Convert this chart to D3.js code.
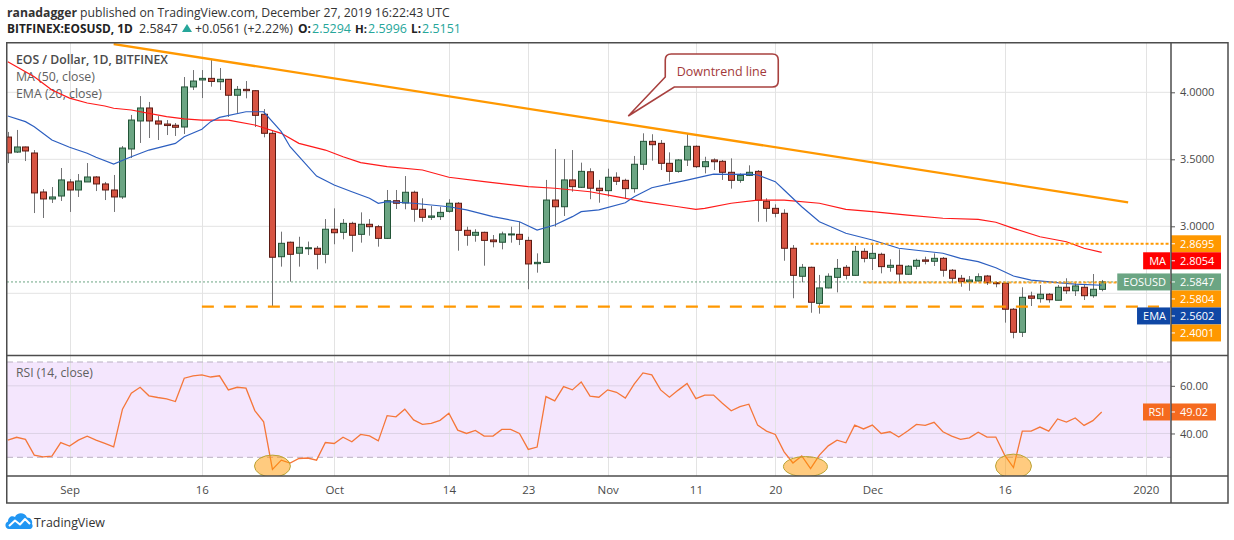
<!DOCTYPE html>
<html>
<head>
<meta charset="utf-8">
<script src="https://cdn.jsdelivr.net/npm/d3@7/dist/d3.min.js"></script>
<style>
html,body{margin:0;padding:0;background:#ffffff;}
svg{display:block;}
text{font-family:"Open Sans","Noto Sans","DejaVu Sans",sans-serif;}
</style>
</head>
<body>
<svg id="chart" width="1234" height="540" viewBox="0 0 1234 540"></svg>
<script>
// ================= DATA =================
const firstDay = "2019-08-25";
const lastDay  = "2019-12-27";

const opens = [3.666,3.554,3.592,3.547,3.256,3.204,3.226,3.331,3.271,3.331,
3.368,3.316,3.271,3.219,3.577,3.786,3.883,3.786,3.763,3.754,
3.741,4.040,4.092,4.104,4.079,4.097,3.978,4.022,4.012,3.836,
3.694,2.773,2.881,2.799,2.833,2.836,2.791,2.978,2.955,3.022,
2.940,3.015,2.997,2.910,3.191,3.174,3.254,3.127,3.067,3.072,
3.112,3.172,2.970,2.933,2.955,2.898,2.881,2.937,2.940,2.895,
2.721,2.731,3.196,3.146,3.346,3.291,3.407,3.284,3.266,3.366,
3.343,3.281,3.463,3.634,3.619,3.470,3.410,3.495,3.597,3.445,
3.495,3.485,3.403,3.343,3.380,3.410,3.187,3.134,3.097,2.836,
2.627,2.694,2.425,2.540,2.619,2.694,2.634,2.813,2.761,2.791,
2.694,2.709,2.642,2.702,2.749,2.739,2.761,2.672,2.612,2.587,
2.592,2.629,2.579,2.575,2.381,2.209,2.480,2.460,2.493,2.448,
2.545,2.519,2.545,2.482,2.5294];

const highs = [3.704,3.719,3.595,3.569,3.278,3.293,3.435,3.353,3.390,3.472,
3.375,3.331,3.383,3.599,3.831,3.972,3.928,3.823,3.793,3.771,
4.114,4.166,4.166,4.241,4.181,4.099,4.047,4.084,4.017,3.875,
3.711,2.960,2.886,2.922,2.886,2.853,3.054,3.134,3.054,3.034,
3.104,3.054,3.010,3.271,3.271,3.375,3.266,3.209,3.152,3.146,
3.202,3.181,2.997,2.978,2.960,2.935,2.960,2.997,3.034,2.922,
2.798,3.346,3.577,3.502,3.569,3.475,3.433,3.346,3.430,3.403,
3.355,3.525,3.694,3.687,3.644,3.552,3.502,3.694,3.604,3.519,
3.507,3.495,3.507,3.395,3.455,3.420,3.209,3.164,3.127,2.860,
2.719,2.699,2.637,2.649,2.756,2.711,2.853,2.836,2.866,2.803,
2.754,2.828,2.711,2.758,2.773,2.798,2.771,2.681,2.637,2.629,
2.649,2.637,2.587,2.579,2.390,2.545,2.512,2.562,2.502,2.562,
2.612,2.579,2.562,2.644,2.5996];

const lows = [3.472,3.547,3.487,3.099,3.062,3.174,3.189,3.107,3.219,3.331,
3.263,3.196,3.107,3.204,3.510,3.622,3.659,3.644,3.681,3.674,
3.689,4.017,3.957,4.042,4.017,3.816,3.846,3.955,3.741,3.664,
2.400,2.699,2.587,2.699,2.786,2.679,2.724,2.866,2.903,2.810,
2.878,2.930,2.848,2.905,3.129,3.127,3.034,3.034,3.047,3.047,
3.102,2.818,2.855,2.885,2.706,2.843,2.828,2.878,2.860,2.530,
2.654,2.728,2.997,3.077,3.258,3.286,3.202,3.176,3.221,3.308,
3.206,3.251,3.420,3.490,3.420,3.333,3.400,3.450,3.435,3.395,
3.420,3.346,3.281,3.325,3.375,3.034,3.034,3.067,2.743,2.463,
2.582,2.355,2.348,2.537,2.507,2.604,2.631,2.731,2.674,2.649,
2.661,2.582,2.637,2.679,2.716,2.704,2.624,2.575,2.549,2.519,
2.587,2.562,2.545,2.281,2.164,2.174,2.405,2.430,2.430,2.448,
2.495,2.480,2.450,2.467,2.5151];

const closes = [3.547,3.592,3.562,3.249,3.204,3.219,3.346,3.271,3.338,3.368,
3.316,3.271,3.219,3.584,3.793,3.883,3.786,3.763,3.752,3.739,
4.040,4.084,4.104,4.081,4.097,3.978,4.022,4.012,3.828,3.694,
2.769,2.873,2.791,2.843,2.840,2.791,2.978,2.952,3.022,2.933,
3.015,2.997,2.910,3.191,3.172,3.254,3.127,3.067,3.077,3.104,
3.172,2.970,2.933,2.955,2.895,2.885,2.943,2.943,2.903,2.719,
2.731,3.196,3.146,3.346,3.296,3.410,3.284,3.266,3.366,3.336,
3.281,3.463,3.634,3.609,3.470,3.410,3.495,3.597,3.445,3.482,
3.482,3.403,3.343,3.380,3.403,3.194,3.134,3.097,2.836,2.634,
2.694,2.433,2.540,2.627,2.686,2.634,2.813,2.761,2.798,2.699,
2.709,2.644,2.702,2.746,2.739,2.761,2.672,2.612,2.587,2.599,
2.624,2.579,2.572,2.381,2.209,2.470,2.463,2.493,2.452,2.545,
2.519,2.555,2.482,2.530,2.5847];

const rsiValues = [37.2,38.4,37.5,30.9,30.2,30.5,36.2,34.7,37.2,38.9,
37.2,35.8,34.4,50.2,56.9,59.4,55.8,55.1,54.5,53.4,
63.2,64.2,64.6,63.7,64.2,58.3,59.4,59.0,49.6,44.9,
24.9,28.8,27.6,29.5,29.7,28.8,36.2,35.8,38.4,36.5,
39.6,39.0,36.9,47.5,47.0,50.2,45.7,43.8,44.2,45.5,
48.5,41.4,40.0,41.3,38.9,38.9,41.7,41.7,40.0,33.3,
34.3,55.5,53.7,59.7,58.3,61.6,55.7,55.2,58.3,57.3,
54.9,60.7,65.4,64.6,58.3,55.2,58.2,61.0,54.6,56.1,
56.1,52.7,49.5,51.3,52.3,43.5,41.0,39.6,32.3,27.6,
30.6,25.3,30.9,34.8,37.2,36.1,43.5,41.9,43.5,40.0,
40.7,38.5,41.0,43.8,43.4,44.7,40.7,38.9,37.5,38.2,
40.5,38.5,38.5,30.9,25.7,41.0,41.0,42.7,41.0,46.1,
44.8,46.5,43.4,45.4,49.02];

// MA(50)
const maDates = ["2019-08-25","2019-08-28","2019-08-30","2019-09-01","2019-09-03","2019-09-05","2019-09-06","2019-09-08",
"2019-09-10","2019-09-12","2019-09-14","2019-09-16","2019-09-19","2019-09-22","2019-09-25","2019-09-27","2019-09-30",
"2019-10-02","2019-10-04","2019-10-07","2019-10-11","2019-10-14","2019-10-18","2019-10-23","2019-10-26","2019-10-30",
"2019-11-02","2019-11-05","2019-11-09","2019-11-11","2019-11-12","2019-11-15","2019-11-18","2019-11-21","2019-11-25",
"2019-11-28","2019-12-01","2019-12-05","2019-12-09","2019-12-13","2019-12-15","2019-12-17","2019-12-20","2019-12-23",
"2019-12-25","2019-12-27"];
const maValues = [4.228,4.116,4.017,3.957,3.920,3.898,3.881,3.868,
3.843,3.818,3.801,3.793,3.793,3.756,3.694,3.619,3.569,
3.519,3.475,3.445,3.420,3.366,3.333,3.296,3.284,3.258,
3.221,3.184,3.146,3.127,3.134,3.172,3.196,3.196,3.172,
3.127,3.109,3.084,3.060,3.052,3.030,2.985,2.922,2.885,
2.836,2.8054];

// EMA(20)
const emaDates = ["2019-08-25","2019-08-27","2019-08-28","2019-08-30","2019-09-01","2019-09-03","2019-09-04","2019-09-06",
"2019-09-08","2019-09-10","2019-09-13","2019-09-14","2019-09-16","2019-09-17","2019-09-18","2019-09-21","2019-09-23",
"2019-09-25","2019-09-26","2019-09-29","2019-10-01","2019-10-03","2019-10-05","2019-10-06","2019-10-07","2019-10-10",
"2019-10-14","2019-10-16","2019-10-19","2019-10-22","2019-10-24","2019-10-26","2019-10-28","2019-10-29","2019-10-31",
"2019-11-03","2019-11-04","2019-11-06","2019-11-08","2019-11-10","2019-11-12","2019-11-13","2019-11-15","2019-11-17",
"2019-11-18","2019-11-20","2019-11-21","2019-11-23","2019-11-25","2019-11-28","2019-12-01","2019-12-04","2019-12-09",
"2019-12-11","2019-12-13","2019-12-15","2019-12-17","2019-12-19","2019-12-22","2019-12-24","2019-12-27"];
const emaValues = [3.823,3.781,3.743,3.644,3.590,3.545,3.515,3.465,
3.519,3.569,3.619,3.669,3.724,3.781,3.813,3.855,3.855,
3.706,3.594,3.375,3.308,3.258,3.209,3.172,3.184,3.172,
3.146,3.122,3.072,3.034,2.972,3.010,3.072,3.109,3.122,
3.176,3.221,3.288,3.316,3.345,3.375,3.390,3.388,3.390,
3.383,3.333,3.271,3.146,3.034,2.948,2.898,2.836,2.799,
2.761,2.736,2.691,2.629,2.599,2.579,2.569,2.5602];

const priceTicks = [2.5, 3.0, 3.5, 4.0];
const rsiTicks = [40, 60];
const rsiBand = [30, 70];
const timeTickDates = ["2019-09-01","2019-09-16","2019-10-01","2019-10-14","2019-10-23","2019-11-01",
"2019-11-11","2019-11-20","2019-12-01","2019-12-16","2020-01-01"];
const timeTickLabels = ["Sep","16","Oct","14","23","Nov","11","20","Dec","16","2020"];

// drawings
const trendDates = ["2019-09-06","2019-12-30"];
const trendValues = [4.360, 3.179];
const resistanceLevel = 2.8695, resistanceStart = "2019-11-24";
const pivotLevel = 2.5804, pivotStart = "2019-11-30";
const supportLevel = 2.4001, supportDates = ["2019-09-16","2020-01-02T12:00"];
const calloutText = "Downtrend line";
const calloutAnchor = ["2019-11-03T08:00", 3.823];
const highlightDates = ["2019-09-24","2019-11-23T10:00","2019-12-17"];
const highlightRsi = [26.3, 26.1, 26.3];

const labelNames  = ["", "MA", "EOSUSD", "", "EMA", ""];
const labelValues = [2.8695, 2.8054, 2.5847, 2.5804, 2.5602, 2.4001];
const rsiLast = 49.02;

const header1Bold = "ranadagger";
const header1Rest = " published on TradingView.com, December 27, 2019 16:22:43 UTC";
const symbolTitle = "BITFINEX:EOSUSD, 1D";
const lastPrice = "2.5847", change = "+0.0561 (+2.22%)";
const ohlcKeys = ["O:", "H:", "L:"];
const ohlcVals = ["2.5294", "2.5996", "2.5151"];
const legendLines = ["EOS / Dollar, 1D, BITFINEX", "MA (50, close)", "EMA (20, close)"];
const rsiLegend = "RSI (14, close)";

// ================= DRAW =================
const D = s => new Date(s.length > 10 ? s + "Z" : s + "T00:00:00Z");
const svg = d3.select("#chart");
const L = 7, R = 1171, FR = 1228, PT = 43, PB = 355.5, RB = 476, AB = 503;

const x = d3.scaleUtc().domain([D("2019-08-25"), D("2020-01-01")]).range([7.8, 1145.8]);
const y = d3.scaleLinear().domain([2.5, 4.0]).range([293.3, 92.3]);
const yR = d3.scaleLinear().domain([30, 70]).range([457.3, 362]);

const days = d3.utcDay.range(D(firstDay), d3.utcDay.offset(D(lastDay), 1));
const candles = days.map((d, i) => ({d, o: opens[i], h: highs[i], l: lows[i], c: closes[i]}));

const defs = svg.append("defs");
defs.append("clipPath").attr("id", "clipP").append("rect").attr("x", L).attr("y", PT).attr("width", R - L).attr("height", PB - PT);
defs.append("clipPath").attr("id", "clipR").append("rect").attr("x", L).attr("y", PB).attr("width", R - L).attr("height", RB - PB);

function fit(sel, w) {
  const n = sel.node(); const len = n.getComputedTextLength();
  const fs = parseFloat(sel.attr("font-size"));
  if (len > 0) sel.attr("font-size", (fs * w / len).toFixed(2));
  return sel;
}

// RSI band background
svg.append("rect").attr("x", L).attr("width", R - L)
  .attr("y", yR(rsiBand[1])).attr("height", yR(rsiBand[0]) - yR(rsiBand[1]))
  .attr("fill", "#f4e6fd");

// vertical grid
const grid = svg.append("g");
grid.selectAll("line.v").data(timeTickDates).join("line")
  .attr("x1", d => Math.round(x(D(d))) + 0.5).attr("x2", d => Math.round(x(D(d))) + 0.5)
  .attr("y1", PT).attr("y2", RB).attr("stroke", "#e3e3e3").attr("stroke-width", 1);
grid.append("g").selectAll("line").data(priceTicks).join("line")
  .attr("x1", L).attr("x2", R).attr("y1", d => y(d)).attr("y2", d => y(d))
  .attr("stroke", "#e3e3e3").attr("stroke-width", 1);
grid.append("g").selectAll("line").data(rsiTicks).join("line")
  .attr("x1", L).attr("x2", R).attr("y1", d => yR(d)).attr("y2", d => yR(d))
  .attr("stroke", "#ddd2e6").attr("stroke-width", 1);
grid.append("g").selectAll("line").data(rsiBand).join("line")
  .attr("x1", L).attr("x2", R).attr("y1", d => yR(d)).attr("y2", d => yR(d))
  .attr("stroke", "#b9b0c2").attr("stroke-width", 1).attr("stroke-dasharray", "6,4");

// legend texts
svg.append("text").attr("x", 16).attr("y", 64).attr("font-size", 14).attr("font-weight", 600)
  .attr("fill", "#4a4a4a").text(legendLines[0]).call(fit, 152);
svg.append("text").attr("x", 16).attr("y", 81).attr("font-size", 14)
  .attr("fill", "#606060").text(legendLines[1]).call(fit, 79);
svg.append("text").attr("x", 16).attr("y", 98).attr("font-size", 14)
  .attr("fill", "#606060").text(legendLines[2]).call(fit, 86);
svg.append("text").attr("x", 16).attr("y", 377).attr("font-size", 14)
  .attr("fill", "#606060").text(rsiLegend).call(fit, 77);

// price pane content
const pane = svg.append("g").attr("clip-path", "url(#clipP)");

pane.append("line").attr("x1", L).attr("x2", R)
  .attr("y1", y(+lastPrice)).attr("y2", y(+lastPrice))
  .attr("stroke", "#6ba583").attr("stroke-width", 1).attr("stroke-dasharray", "2,2");

// candles
const cg = pane.append("g");
cg.selectAll("line").data(candles).join("line")
  .attr("x1", d => Math.round(x(d.d)) + 0.5).attr("x2", d => Math.round(x(d.d)) + 0.5)
  .attr("y1", d => y(d.h)).attr("y2", d => y(d.l))
  .attr("stroke", "#737375").attr("stroke-width", 1);
cg.selectAll("rect").data(candles).join("rect")
  .attr("x", d => Math.round(x(d.d)) - 2.5).attr("width", 6)
  .attr("y", d => y(Math.max(d.o, d.c)))
  .attr("height", d => Math.max(1, Math.abs(y(d.o) - y(d.c))))
  .attr("fill", d => d.c >= d.o ? "#6ba583" : "#d75442")
  .attr("stroke", d => d.c >= d.o ? "#225437" : "#5b1a13").attr("stroke-width", 1);

// MA & EMA
const line = d3.line().x(d => x(d[0])).y(d => y(d[1]));
pane.append("path").datum(maDates.map((d, i) => [D(d), maValues[i]]))
  .attr("d", line).attr("fill", "none").attr("stroke", "#ff1a1a").attr("stroke-width", 1.2);
pane.append("path").datum(emaDates.map((d, i) => [D(d), emaValues[i]]))
  .attr("d", line).attr("fill", "none").attr("stroke", "#2d5fc0").attr("stroke-width", 1.2);

// horizontal levels
pane.append("line").attr("x1", x(D(resistanceStart))).attr("x2", R)
  .attr("y1", y(resistanceLevel)).attr("y2", y(resistanceLevel))
  .attr("stroke", "#ff9800").attr("stroke-width", 2).attr("stroke-dasharray", "3,2");
pane.append("line").attr("x1", x(D(pivotStart))).attr("x2", R)
  .attr("y1", y(pivotLevel)).attr("y2", y(pivotLevel))
  .attr("stroke", "#ff9800").attr("stroke-width", 2).attr("stroke-dasharray", "3,2").attr("opacity", 0.85);
pane.append("line").attr("x1", x(D(supportDates[0]))).attr("x2", x(D(supportDates[1])))
  .attr("y1", y(supportLevel)).attr("y2", y(supportLevel))
  .attr("stroke", "#ff9800").attr("stroke-width", 2.2).attr("stroke-dasharray", "12,10");
pane.append("line").attr("x1", x(D(trendDates[0]))).attr("x2", x(D(trendDates[1])))
  .attr("y1", y(trendValues[0])).attr("y2", y(trendValues[1]))
  .attr("stroke", "#ff9800").attr("stroke-width", 2.3);

// callout
{
  const tx = x(D(calloutAnchor[0])), ty = y(calloutAnchor[1]);
  const l = tx + 37, r = tx + 150, t = ty - 62, b = ty - 29, rr = 6;
  const p = `M${l+rr},${t} H${r-rr} Q${r},${t} ${r},${t+rr} V${b-rr} Q${r},${b} ${r-rr},${b} H${l+9} L${tx},${ty} L${l},${b-10} V${t+rr} Q${l},${t} ${l+rr},${t} Z`;
  svg.append("path").attr("d", p).attr("fill", "#ffffff").attr("stroke", "#a8413f").attr("stroke-width", 1.6);
  svg.append("text").attr("x", (l + r) / 2).attr("y", (t + b) / 2 + 5).attr("text-anchor", "middle")
    .attr("font-size", 14).attr("fill", "#a33a3a").text(calloutText).call(fit, 90);
}

// RSI pane
const rp = svg.append("g").attr("clip-path", "url(#clipR)");
rp.append("path").datum(days.map((d, i) => [d, rsiValues[i]]))
  .attr("d", d3.line().x(d => x(d[0])).y(d => yR(d[1])))
  .attr("fill", "none").attr("stroke", "#f5773a").attr("stroke-width", 1.3);
const hrx = [18, 22, 18], hry = [11, 10, 12];
rp.selectAll("ellipse").data(highlightDates).join("ellipse")
  .attr("cx", d => x(D(d))).attr("cy", (d, i) => yR(highlightRsi[i]))
  .attr("rx", (d, i) => hrx[i]).attr("ry", (d, i) => hry[i])
  .attr("fill", "#ff9800").attr("fill-opacity", 0.5).attr("stroke", "#b8a336").attr("stroke-width", 1);

// price labels placement (collision avoidance, stacked downward)
const BH = 17;
let prevBottom = -1e9;
const placed = labelValues.map((v, i) => {
  let top = y(v) - BH / 2;
  if (top < prevBottom) top = prevBottom;
  prevBottom = top + BH;
  return {v, i, top};
});
const covered = yy => placed.some(p => yy > p.top - 6 && yy < p.top + BH + 6);

// price axis (tick labels hidden where price labels cover them)
const pa = svg.append("g").attr("transform", `translate(${R},0)`)
  .call(d3.axisRight(y).tickValues(priceTicks.filter(v => !covered(y(v)))).tickSize(4).tickPadding(5).tickFormat(d3.format(".4f")));
pa.select(".domain").remove();
pa.selectAll("line").attr("stroke", "#555");
pa.selectAll("text").attr("font-size", 11).attr("fill", "#4a4a4a").attr("font-family", null);

// rsi axis
const ra = svg.append("g").attr("transform", `translate(${R},0)`)
  .call(d3.axisRight(yR).tickValues(rsiTicks).tickSize(4).tickPadding(5).tickFormat(d3.format(".2f")));
ra.select(".domain").remove();
ra.selectAll("line").attr("stroke", "#555");
ra.selectAll("text").attr("font-size", 11).attr("fill", "#4a4a4a").attr("font-family", null);

// time axis
const ta = svg.append("g").attr("transform", `translate(0,${RB})`)
  .call(d3.axisBottom(x).tickValues(timeTickDates.map(D)).tickSize(0).tickPadding(10)
    .tickFormat((d, i) => timeTickLabels[i]));
ta.select(".domain").remove();
ta.selectAll("text").attr("font-size", 11.5).attr("fill", "#4a4a4a").attr("font-family", null);

// label boxes
const labelColors = ["#ff9800", "#ff0000", "#6ba583", "#ff9800", "#0f47a5", "#ff9800"];
const lg = svg.append("g");
placed.forEach(p => {
  const col = labelColors[p.i];
  lg.append("rect").attr("x", R).attr("y", p.top).attr("width", 50).attr("height", BH).attr("fill", col);
  lg.append("line").attr("x1", R).attr("x2", R + 4).attr("y1", p.top + BH / 2).attr("y2", p.top + BH / 2)
    .attr("stroke", "#fff").attr("stroke-width", 1);
  lg.append("text").attr("x", R + 9).attr("y", p.top + BH / 2 + 4).attr("font-size", 11)
    .attr("fill", "#fff").text(d3.format(".4f")(p.v));
  const nm = labelNames[p.i];
  if (nm) {
    const t = lg.append("text").attr("y", p.top + BH / 2 + 4).attr("font-size", 11)
      .attr("fill", "#fff").attr("text-anchor", "end").attr("x", R - 5).text(nm);
    const w = t.node().getComputedTextLength() + 10;
    lg.insert("rect", () => t.node()).attr("x", R - 1 - w).attr("y", p.top).attr("width", w).attr("height", BH).attr("fill", col);
  }
});
{
  const top = yR(rsiLast) - BH / 2, col = "#f56a1f";
  lg.append("rect").attr("x", R).attr("y", top).attr("width", 45).attr("height", BH).attr("fill", col);
  lg.append("line").attr("x1", R).attr("x2", R + 4).attr("y1", top + BH / 2).attr("y2", top + BH / 2).attr("stroke", "#fff");
  lg.append("text").attr("x", R + 9).attr("y", top + BH / 2 + 4).attr("font-size", 11).attr("fill", "#fff").text(rsiLast.toFixed(2));
  lg.append("rect").attr("x", R - 28).attr("y", top).attr("width", 27).attr("height", BH).attr("fill", col);
  lg.append("text").attr("x", R - 14.5).attr("y", top + BH / 2 + 4).attr("text-anchor", "middle").attr("font-size", 11).attr("fill", "#fff").text("RSI");
}

// frame
const fr = svg.append("g").attr("stroke", "#4d4d4d").attr("stroke-width", 1.5).attr("fill", "none");
fr.append("rect").attr("x", 6.75).attr("y", 42.75).attr("width", FR - 6.75).attr("height", AB - 42.75);
fr.append("line").attr("x1", 6.75).attr("x2", FR).attr("y1", PB).attr("y2", PB);
fr.append("line").attr("x1", 6.75).attr("x2", FR).attr("y1", RB).attr("y2", RB);
fr.append("line").attr("x1", R).attr("x2", R).attr("y1", 42.75).attr("y2", AB);

// header
const h1 = svg.append("text").attr("x", 7).attr("y", 17).attr("font-size", 15).attr("fill", "#333");
h1.append("tspan").attr("font-weight", 700).text(header1Bold);
h1.append("tspan").text(header1Rest);
fit(h1, 443);

const hs = 14.5;
const segs = [
  {t: symbolTitle, x: 7, w: 126, b: true, c: "#222"},
  {t: lastPrice, x: 139, w: 39, c: "#333"},
  {t: change, x: 195, w: 98, c: "#333"},
  {t: ohlcKeys[0], x: 298, w: 13, b: true, c: "#222"},
  {t: ohlcVals[0], x: 312, w: 39, c: "#26a69a"},
  {t: ohlcKeys[1], x: 355, w: 12, b: true, c: "#222"},
  {t: ohlcVals[1], x: 368, w: 39, c: "#26a69a"},
  {t: ohlcKeys[2], x: 411, w: 10, b: true, c: "#222"},
  {t: ohlcVals[2], x: 422, w: 39, c: "#26a69a"}
];
segs.forEach(s => {
  const t = svg.append("text").attr("x", s.x).attr("y", 33).attr("font-size", hs)
    .attr("font-weight", s.b ? 700 : 400).attr("fill", s.c).text(s.t);
  fit(t, s.w);
});
svg.append("path").attr("d", "M182,32 L187,24 L192,32 Z").attr("fill", "#26a69a");

// TradingView logo
const logo = svg.append("g");
logo.append("path").attr("d", "M9,529 C5,529 4,523 8,521.5 C8,517 12,515 15,517 C17,512 25,512 27,517.5 C31,517.5 33,521 32,524 C34,527 31,529.5 29,529 Z")
  .attr("fill", "#2196f3");
logo.append("path").attr("d", "M9,526 L15,520.5 L20,524.5 L25,519 L30,524")
  .attr("fill", "none").attr("stroke", "#fff").attr("stroke-width", 2).attr("stroke-linejoin", "round");
svg.append("text").attr("x", 34).attr("y", 527).attr("font-size", 14).attr("fill", "#333").text("TradingView").call(fit, 71);
</script>
</body>
</html>
